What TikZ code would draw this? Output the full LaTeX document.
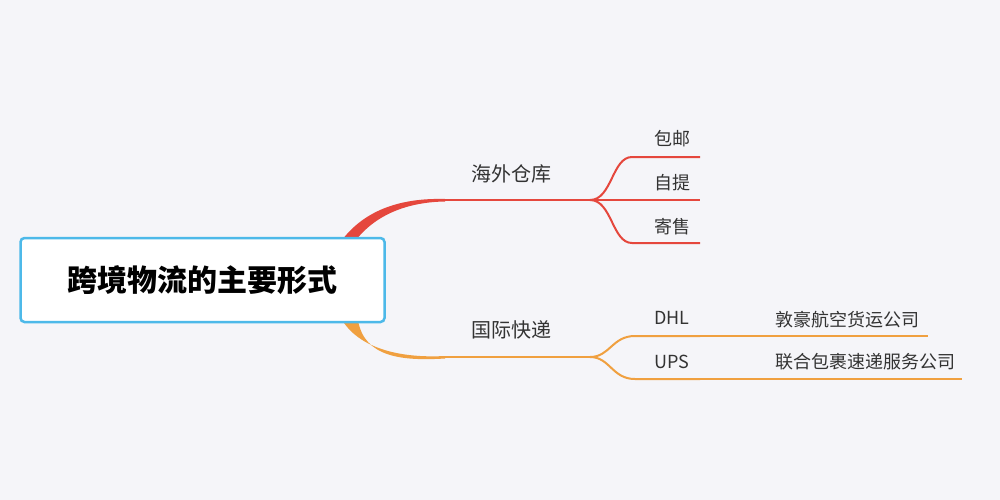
\documentclass[tikz,border=0pt]{standalone}
\usepackage{fontspec}
\setmainfont{Noto Sans CJK SC}
\begin{document}
\begin{tikzpicture}[x=1pt,y=-1pt,
  lbl/.style={inner sep=0pt,font=\fontsize{18}{20}\selectfont,text=black!80},
  lblbig/.style={inner sep=0pt,font=\fontsize{20}{22}\selectfont,text=black!80},
  redl/.style={draw=redc,line width=2pt},
  orl/.style={draw=orc,line width=2pt},
  orthin/.style={draw=orc,line width=1.3pt}]
\definecolor{bg}{HTML}{F5F5F9}
\definecolor{redc}{HTML}{E5473D}
\definecolor{orc}{HTML}{F0A040}
\definecolor{boxc}{HTML}{4DB9E9}
\fill[bg] (0,0) rectangle (1000,500);
\useasboundingbox (0,0) rectangle (1000,500);
% central tapered branches
\fill[redc] (342,240) .. controls (368,206) and (408,198) .. (445,199) -- (445,201.5) .. controls (412,202) and (378,212) .. (356,240) -- cycle;
\fill[orc] (342,320) .. controls (362,352) and (408,358) .. (445,356) -- (445,358.5) .. controls (404,361) and (364,358) .. (358,320) -- cycle;
% central node
\node[draw=boxc,line width=2.5pt,fill=white,rounded corners=4pt,minimum width=364pt,minimum height=84pt,inner sep=0pt] (root) at (202.5,280) {};
\node[inner sep=0pt,font=\fontsize{30}{34}\selectfont\bfseries] (title) at (root.center) {跨境物流的主要形式};
% red branch
\coordinate (r0) at (445,200);
\coordinate (r1) at (590,200);
\coordinate (ra) at (700,157);
\coordinate (rb) at (700,200);
\coordinate (rc) at (700,243);
\draw[redl] (r0) -- (r1);
\draw[redl] (r1) .. controls (612,200) and (612,157) .. (632,157) -- (ra);
\draw[redl] (r1) -- (rb);
\draw[redl] (r1) .. controls (612,200) and (612,243) .. (632,243) -- (rc);
\node[lblbig] (haiwai) at (511,174) {海外仓库};
\node[lbl] (baoyou) at (672,139) {包邮};
\node[lbl] (ziti) at (672,183) {自提};
\node[lbl] (jishou) at (672,227) {寄售};
% orange branch
\coordinate (o0) at (445,357);
\coordinate (o1) at (590,357);
\coordinate (oa) at (700,336);
\coordinate (ob) at (700,379);
\coordinate (oa2) at (928,336);
\coordinate (ob2) at (962,379);
\draw[orl] (o0) -- (o1);
\draw[orl] (o1) .. controls (610,357) and (612,336) .. (635,336) -- (oa);
\draw[orl] (o1) .. controls (610,357) and (612,379) .. (635,379) -- (ob);
\draw[orthin] (oa) -- (oa2);
\draw[orthin] (ob) -- (ob2);
\node[lblbig] (guoji) at (511,330) {国际快递};
\node[lbl] (dhl) at (672,318) {DHL};
\node[lbl] (ups) at (672,362) {UPS};
\node[lbl] (dunhao) at (847,320) {敦豪航空货运公司};
\node[lbl] (lianhe) at (865,362) {联合包裹速递服务公司};
\end{tikzpicture}
\end{document}
